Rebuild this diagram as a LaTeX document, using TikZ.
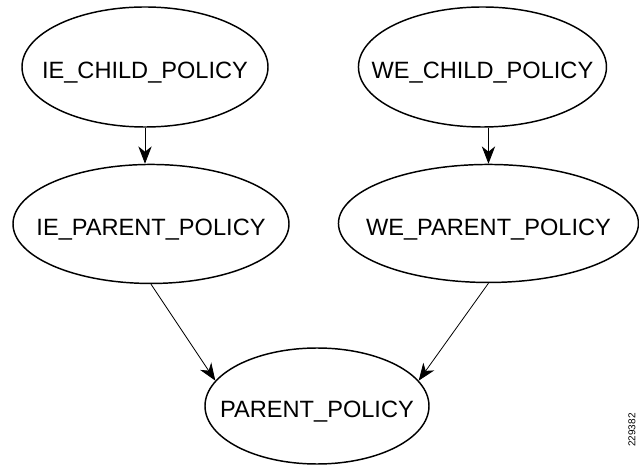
\documentclass[tikz,border=0pt]{standalone}
\usepackage{fontspec}
\setmainfont{Liberation Sans}
\usepackage{tikz}
\usetikzlibrary{arrows.meta, positioning, shapes.geometric}

\begin{document}
\begin{tikzpicture}[
            policy/.style={ellipse, draw, line width=1.1pt, inner sep=0pt, minimum width=185pt, minimum height=90pt,
                text height=18pt, text depth=0pt, font=\fontsize{17.7}{20}\selectfont},
            arrow/.style={-{Stealth[length=13pt, width=10pt, inset=4pt]}, line width=0.6pt},
            node distance=27pt and 66.75pt
        ]

        \useasboundingbox (0,0) rectangle (479.25pt,-349.5pt);

        \node[policy, minimum width=184.5pt] (iechild) at (108.75pt,-50.25pt) {\makebox[0pt]{IE\_CHILD\_POLICY}};
        \node[policy, minimum width=186pt, right=of iechild] (wechild) {\makebox[0pt]{WE\_CHILD\_POLICY}};
        \node[policy, minimum width=207pt, minimum height=89.25pt, below=of iechild, xshift=4.5pt] (ieparent) {\makebox[0pt]{IE\_PARENT\_POLICY}};
        \node[policy, minimum width=225pt, minimum height=88.5pt, below=of wechild, xshift=4.5pt] (weparent) {\makebox[0pt]{WE\_PARENT\_POLICY}};
        \node[policy, minimum width=168pt, minimum height=87pt] (parent) at (237.75pt,-304.5pt) {\makebox[0pt]{PARENT\_POLICY}};

        \node[rotate=90, inner sep=0pt, font=\fontsize{7.5}{9}\selectfont] (figno) at (474pt,-322.5pt) {229382};

        \draw[arrow] (iechild.south) -- (iechild.south |- ieparent.north);
        \draw[arrow] (weparent.north |- wechild.south) -- (weparent.north);

        \draw[arrow] (ieparent.south) -- (parent.166);
        \draw[arrow] (weparent.south) -- (parent.14);

    \end{tikzpicture}
\end{document}
